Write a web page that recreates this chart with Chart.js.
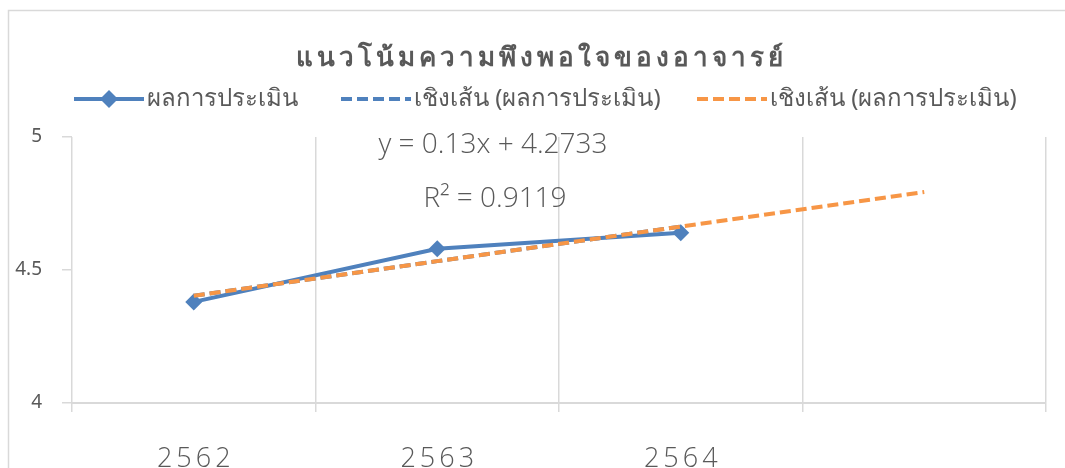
<!DOCTYPE html>
<html>
<head>
<meta charset="utf-8">
<script src="https://cdn.jsdelivr.net/npm/chart.js@4/dist/chart.umd.min.js"></script>
<style>
  html, body { margin: 0; padding: 0; background: #fff; }
  #wrap { width: 1065px; height: 468px; position: relative; }
</style>
</head>
<body>
<div id="wrap"><canvas id="myChart" width="1065" height="468"></canvas></div>
<script>
var categories = ['2562', '2563', '2564', ''];
var scores = [4.38, 4.58, 4.64, null];
var trendBlue = [4.4033, 4.5333, 4.6633, null];
var trendOrange = [4.4033, 4.5333, 4.6633, 4.7933];
var yTicks = [4, 4.5, 5];
var titleText = 'แนวโน้มความพึงพอใจของอาจารย์';
var legendLabels = ['ผลการประเมิน', 'เชิงเส้น (ผลการประเมิน)', 'เชิงเส้น (ผลการประเมิน)'];
var equationLines = ['y = 0.13x + 4.2733', 'R² = 0.9119'];

var BLUE = '#4F81BD';
var ORANGE = '#F79646';
var TEXT = '#595959';
var GRID = '#d9d9d9';
var FONT = '"Noto Sans", "DejaVu Sans", sans-serif';

// everything excel draws outside the plot: frame, title, legend, category labels
var extras = {
    id: 'extras',
    beforeDraw: function (chart) {
        var ctx = chart.ctx;
        ctx.save();
        ctx.strokeStyle = GRID;
        ctx.lineWidth = 1.5;
        ctx.beginPath();
        ctx.moveTo(8.5, 468);
        ctx.lineTo(8.5, 10.5);
        ctx.lineTo(1065, 10.5);
        ctx.stroke();
        ctx.restore();
    },
    afterDraw: function (chart) {
        var ctx = chart.ctx;
        ctx.save();
        ctx.fillStyle = TEXT;

        // title
        ctx.font = 'bold 26px ' + FONT;
        ctx.letterSpacing = '4px';
        ctx.textAlign = 'center';
        ctx.textBaseline = 'alphabetic';
        ctx.fillText(titleText, 541, 66);

        // legend
        ctx.letterSpacing = '0px';
        ctx.font = '24px ' + FONT;
        ctx.textAlign = 'left';
        ctx.textBaseline = 'middle';
        var ly = 99;
        var items = [
            {x: 74, color: BLUE, dash: [], marker: true},
            {x: 341, color: BLUE, dash: [11, 5]},
            {x: 697, color: ORANGE, dash: [11, 5]}
        ];
        items.forEach(function (it, i) {
            ctx.save();
            ctx.strokeStyle = it.color;
            ctx.lineWidth = 4;
            ctx.setLineDash(it.dash);
            ctx.beginPath();
            ctx.moveTo(it.x, ly);
            ctx.lineTo(it.x + 70, ly);
            ctx.stroke();
            if (it.marker) {
                ctx.fillStyle = it.color;
                ctx.beginPath();
                ctx.moveTo(it.x + 35, ly - 9);
                ctx.lineTo(it.x + 44, ly);
                ctx.lineTo(it.x + 35, ly + 9);
                ctx.lineTo(it.x + 26, ly);
                ctx.closePath();
                ctx.fill();
            }
            ctx.restore();
            ctx.fillText(legendLabels[i], it.x + 73, ly);
        });

        // category labels, spaced out like the original
        var xs = chart.scales.x;
        ctx.font = '300 27px "Open Sans", sans-serif';
        ctx.letterSpacing = '4px';
        ctx.textAlign = 'center';
        ctx.textBaseline = 'alphabetic';
        categories.forEach(function (c, i) {
            ctx.fillText(c, xs.getPixelForTick(i) + 2, 467);
        });
        ctx.restore();
    },
    beforeDatasetsDraw: function (chart) {
        // trendline label
        var ctx = chart.ctx;
        ctx.save();
        ctx.fillStyle = TEXT;
        ctx.font = '300 28px "Open Sans", sans-serif';
        ctx.textAlign = 'center';
        ctx.textBaseline = 'middle';
        ctx.fillText(equationLines[0], 493, 145);
        ctx.fillText(equationLines[1], 495, 199);
        ctx.restore();
    }
};

var ctx = document.getElementById('myChart').getContext('2d');
var myChart = new Chart(ctx, {
    type: 'line',
    data: {
        labels: categories,
        datasets: [
            {
                label: legendLabels[2],
                data: trendOrange,
                borderColor: ORANGE,
                borderWidth: 4,
                borderDash: [11, 5],
                pointRadius: 0,
                fill: false,
                order: 0
            },
            {
                label: legendLabels[1],
                data: trendBlue,
                borderColor: BLUE,
                borderWidth: 4,
                borderDash: [11, 5],
                pointRadius: 0,
                fill: false,
                order: 1
            },
            {
                label: legendLabels[0],
                data: scores,
                borderColor: BLUE,
                backgroundColor: BLUE,
                borderWidth: 4,
                pointStyle: 'rectRot',
                pointRadius: 8.5,
                pointBorderWidth: 0,
                fill: false,
                order: 2
            }
        ]
    },
    options: {
        responsive: false,
        animation: false,
        elements: {
            line: {
                tension: 0 // straight segments like excel
            }
        },
        layout: {
            padding: {top: 137, left: 0, right: 19, bottom: 0}
        },
        plugins: {
            legend: {display: false},
            title: {display: false},
            tooltip: {enabled: false}
        },
        scales: {
            x: {
                offset: true,
                grid: {
                    offset: true,
                    color: GRID,
                    lineWidth: 1.5,
                    tickLength: 9,
                    drawTicks: true
                },
                border: {color: GRID, width: 2},
                ticks: {display: false},
                afterFit: function (scale) {
                    scale.height = 65;
                }
            },
            y: {
                min: 4,
                max: 5,
                afterBuildTicks: function (scale) {
                    scale.ticks = yTicks.map(function (v) { return {value: v}; });
                },
                grid: {
                    drawOnChartArea: false,
                    color: GRID,
                    lineWidth: 1.5,
                    tickLength: 10
                },
                border: {display: false},
                ticks: {
                    color: TEXT,
                    font: {family: FONT, size: 19},
                    padding: 20,
                    callback: function (v) { return String(v); }
                },
                afterFit: function (scale) {
                    scale.width = 72;
                }
            }
        }
    },
    plugins: [extras]
});
</script>
</body>
</html>
